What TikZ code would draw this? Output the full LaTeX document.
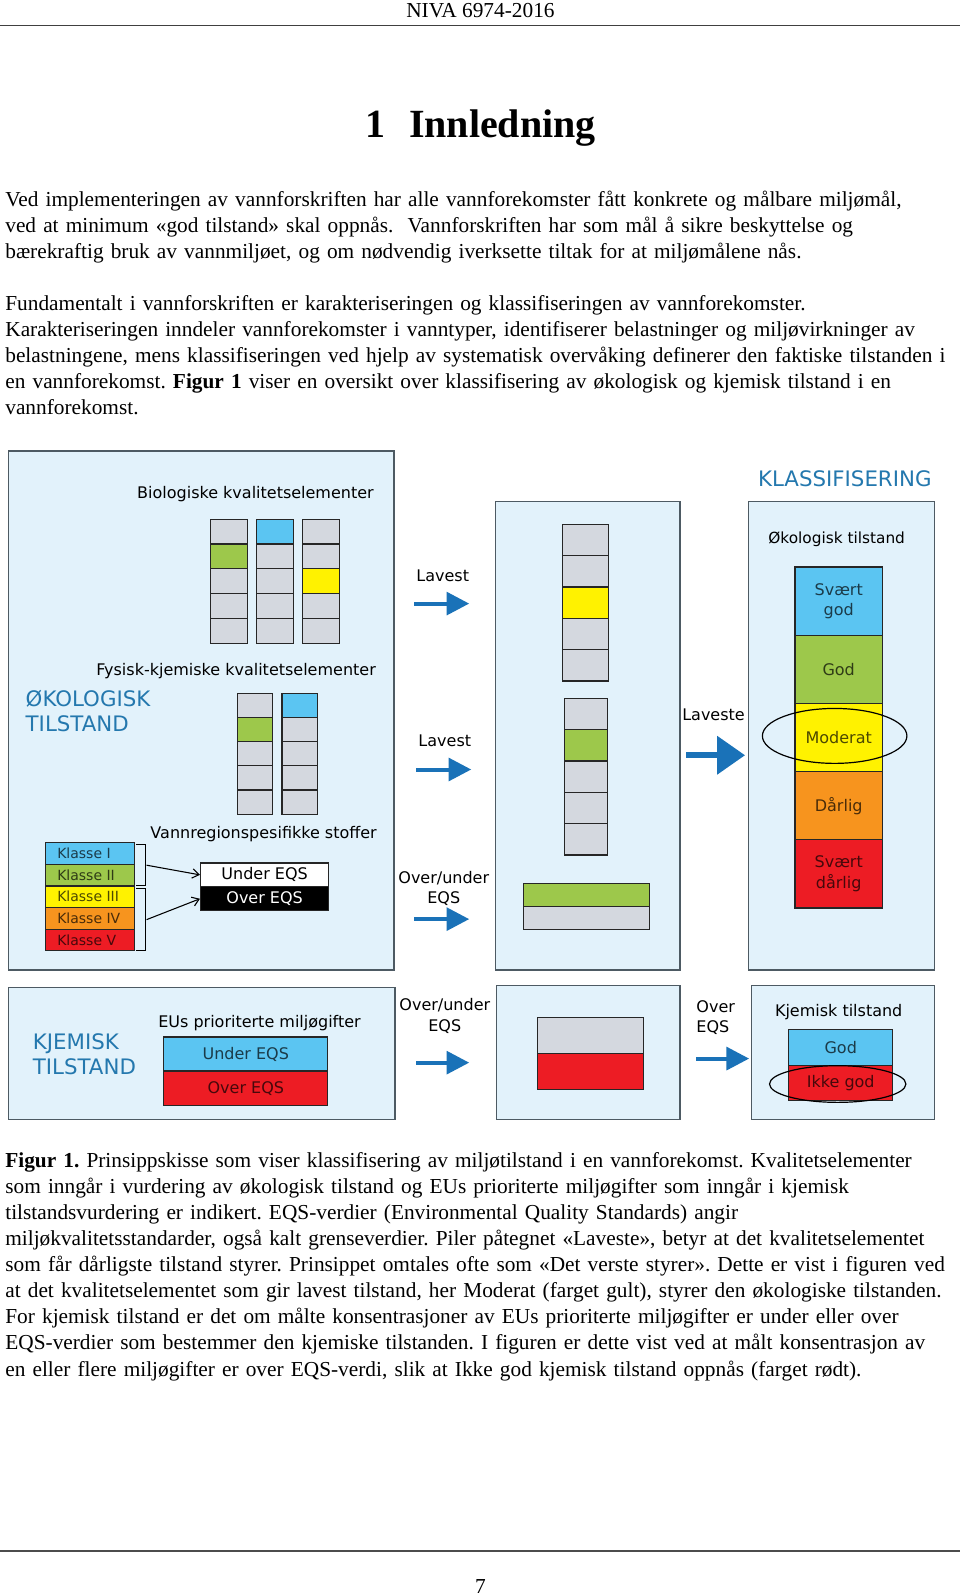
\documentclass[tikz,border=0pt]{standalone}
\usepackage{fontspec}
\setmainfont{Liberation Serif}
\newfontfamily\figfont{DejaVu Sans}
\usetikzlibrary{shapes.geometric,fit,arrows.meta}
\definecolor{panelfill}{HTML}{E2F2FB}
\definecolor{panelline}{HTML}{4D5A63}
\definecolor{cellgrey}{HTML}{D4D8DF}
\definecolor{kblue}{HTML}{5BC5F2}
\definecolor{kgreen}{HTML}{9DC84B}
\definecolor{kyellow}{HTML}{FFF200}
\definecolor{korange}{HTML}{F7941E}
\definecolor{kred}{HTML}{ED1C24}
\definecolor{headblue}{HTML}{2478AE}
\definecolor{arrowblue}{HTML}{1A72B8}
\frenchspacing

\begin{document}
\begin{tikzpicture}[x=0.7635pt,y=-0.7635pt,
	panel/.style={draw=panelline,fill=panelfill,line width=0.9pt,inner sep=0pt},
	cell/.style={draw=black!85,fill=cellgrey,line width=0.9pt,inner sep=0pt},
	txt/.style={font=\fontsize{16}{19.55}\selectfont,inner sep=0pt},
	para/.style={txt,text width=760pt,align=left,anchor=base west},
	fig/.style={font=\figfont\fontsize{12}{15.3}\selectfont,inner sep=0pt,align=center},
	head/.style={font=\figfont\fontsize{16}{19}\selectfont,text=headblue,inner sep=0pt,align=left},
	klasse/.style={font=\figfont\fontsize{10.5}{12}\selectfont,inner sep=0pt},
	bluearrow/.style={draw=arrowblue,line width=3pt,-{Triangle[length=17pt,width=17pt]}},
	bigarrow/.style={draw=arrowblue,line width=4.5pt,-{Triangle[length=21pt,width=28pt]}},
	ring/.style={draw=black,ellipse,line width=0.9pt,inner sep=0pt}]

\useasboundingbox[fill=white] (0,0) rectangle (943,1568);

%page head and title
\node[txt,anchor=base] (header) at (472,17.5) {NIVA 6974-2016};
\draw[black!75,line width=0.9pt] (0,25) -- (943,25);
\node[font=\bfseries\fontsize{30}{35}\selectfont,anchor=base,inner sep=0pt] (title) at (472,135.5) {1\hspace{0.6em}Innledning};

%the two paragraphs
\node[para] (par1) at (5,203) {Ved implementeringen av vannforskriften har alle vannforekomster fått konkrete og målbare miljømål,\\
ved at minimum «god tilstand» skal oppnås.\ \ Vannforskriften har som mål å sikre beskyttelse og\\
bærekraftig bruk av vannmiljøet, og om nødvendig iverksette tiltak for at miljømålene nås.};
\node[para] (par2) at (5,305) {Fundamentalt i vannforskriften er karakteriseringen og klassifiseringen av vannforekomster.\\
Karakteriseringen inndeler vannforekomster i vanntyper, identifiserer belastninger og miljøvirkninger av\\
belastningene, mens klassifiseringen ved hjelp av systematisk overvåking definerer den faktiske tilstanden i\\
en vannforekomst. \textbf{Figur 1} viser en oversikt over klassifisering av økologisk og kjemisk tilstand i en\\
vannforekomst.};

%put the panels
\node[panel,fit={(8,443) (387,953)}] (oekpanel) {};
\node[panel,fit={(487,493) (668,953)}] (midpanel) {};
\node[panel,fit={(735,493) (918,953)}] (klasspanel) {};
\node[panel,fit={(8,970) (388,1100)}] (kjempanel) {};
\node[panel,fit={(488,968) (668,1100)}] (kjemmid) {};
\node[panel,fit={(738,968) (918,1100)}] (kjemres) {};

%biological elements on the left
\node[fig] (biohead) at (251,485) {Biologiske kvalitetselementer};
\foreach \x/\cols [count=\k] in {225/{cellgrey,kgreen,cellgrey,cellgrey,cellgrey},270/{kblue,cellgrey,cellgrey,cellgrey,cellgrey},315.5/{cellgrey,cellgrey,kyellow,cellgrey,cellgrey}}{
	\foreach \c [count=\i] in \cols{
		\node[cell,fill=\c,minimum width=27.5pt,minimum height=18.6pt] (bio\k\i) at (\x,{510+(\i-0.5)*24.4}) {};
	}
}
%physico-chemical elements
\node[fig] (fyshead) at (232,659) {Fysisk-kjemiske kvalitetselementer};
\node[head,anchor=west] (oekhead) at (25,698.5) {ØKOLOGISK\\TILSTAND};
\foreach \x/\cols [count=\k] in {250.5/{cellgrey,kgreen,cellgrey,cellgrey,cellgrey},294.5/{kblue,cellgrey,cellgrey,cellgrey,cellgrey}}{
	\foreach \c [count=\i] in \cols{
		\node[cell,fill=\c,minimum width=26.7pt,minimum height=18.2pt] (fys\k\i) at (\x,{681+(\i-0.5)*23.8}) {};
	}
}
%river basin specific substances
\node[fig] (vannhead) at (259,819) {Vannregionspesifikke stoffer};
\foreach \c/\t [count=\i] in {kblue/I,kgreen/II,kyellow/III,korange/IV,kred/V}{
	\node[cell,fill=\c,minimum width=66.4pt,minimum height=16.2pt] (kl\i) at (88.5,{828+(\i-0.5)*21.2}) {};
	\node[klasse,text=\c!30!black,anchor=west] (kltxt\i) at (56,{828+(\i-0.5)*21.2}) {Klasse \t};
}
\draw[line width=0.9pt] (134,830) -| (143,870) -- (134,870);
\draw[line width=0.9pt] (134,873) -| (143,934) -- (134,934);
\coordinate (brk1) at (144,850);
\coordinate (brk2) at (144,903.5);
\node[cell,fill=white,fig,minimum width=96.2pt,minimum height=17.9pt] (undereqs) at (260,859.5) {Under EQS};
\node[cell,fill=black,fig,text=white,minimum width=96.2pt,minimum height=17.9pt] (overeqs) at (260,883) {Over EQS};
\draw[-{Straight Barb[length=5pt,width=7pt]},line width=0.8pt] (brk1) -- (undereqs.west);
\draw[-{Straight Barb[length=5pt,width=7pt]},line width=0.8pt] (brk2) -- (overeqs.west);

%the middle panel
\foreach \c [count=\i] in {cellgrey,cellgrey,kyellow,cellgrey,cellgrey}
	\node[cell,fill=\c,minimum width=34.4pt,minimum height=23.5pt] (mida\i) at (575.5,{515+(\i-0.5)*30.8}) {};
\foreach \c [count=\i] in {cellgrey,kgreen,cellgrey,cellgrey,cellgrey}
	\node[cell,fill=\c,minimum width=32.1pt,minimum height=23.5pt] (midb\i) at (576,{686+(\i-0.5)*30.8}) {};
\node[cell,fill=kgreen,minimum width=94.7pt,minimum height=17.2pt] (midbar1) at (576,879.25) {};
\node[cell,minimum width=94.7pt,minimum height=17.2pt] (midbar2) at (576,901.75) {};

%arrows into the middle panel
\node[fig] (lavtxt1) at (435,566) {Lavest};
\node[fig] (lavtxt2) at (437,728) {Lavest};
\node[fig] (eqstxt1) at (436,873) {Over/under\\EQS};
\coordinate (lav1s) at (407,593); \coordinate (lav1e) at (461,593);
\coordinate (lav2s) at (409,756); \coordinate (lav2e) at (463,756);
\coordinate (eqs1s) at (407,903); \coordinate (eqs1e) at (461,903);
\draw[bluearrow] (lav1s) -- (lav1e);
\draw[bluearrow] (lav2s) -- (lav2e);
\draw[bluearrow] (eqs1s) -- (eqs1e);

%classification on the right
\node[head] (klasshead) at (830,470) {KLASSIFISERING};
\node[fig,font=\figfont\fontsize{11.5}{14}\selectfont] (oektil) at (822,530) {Økologisk tilstand};
\foreach \c/\t [count=\i] in {kblue/{Svært\\god},kgreen/God,kyellow/Moderat,korange/Dårlig,kred/{Svært\\dårlig}}
	\node[cell,fill=\c,fig,text=\c!30!black,minimum width=65.7pt,minimum height=51.2pt] (st\i) at (824,{557+(\i-0.5)*67}) {\t};
\node[ring,minimum width=108.4pt,minimum height=41.2pt] (modring) at (820,723) {};
\node[fig] (lavestetxt) at (701,702) {Laveste};
\coordinate (lav3s) at (674,742); \coordinate (lav3e) at (732,742);
\draw[bigarrow] (lav3s) -- (lav3e);

%chemical status at the bottom
\node[head,anchor=west] (kjemhead) at (32,1035.5) {KJEMISK\\TILSTAND};
\node[fig] (eushead) at (255,1005) {EUs prioriterte miljøgifter};
\node[cell,fill=kblue,fig,text=kblue!30!black,minimum width=122.9pt,minimum height=25.6pt] (eusunder) at (241.5,1035.5) {Under EQS};
\node[cell,fill=kred,fig,text=kred!30!black,minimum width=122.9pt,minimum height=25.6pt] (eusover) at (241.5,1069) {Over EQS};
\node[fig] (eqstxt2) at (437,998) {Over/under\\EQS};
\coordinate (eqs2s) at (409,1044); \coordinate (eqs2e) at (461,1044);
\draw[bluearrow] (eqs2s) -- (eqs2e);
\node[cell,minimum width=79.4pt,minimum height=26.7pt] (kjemgrey) at (580,1017.5) {};
\node[cell,fill=kred,minimum width=79.4pt,minimum height=26.7pt] (kjemred) at (580,1052.5) {};
\node[fig,align=left,anchor=west] (overtxt) at (684,1000) {Over\\EQS};
\coordinate (overs) at (684,1040); \coordinate (overe) at (736,1040);
\draw[bluearrow] (overs) -- (overe);
\node[fig] (kjemtil) at (824,994) {Kjemisk tilstand};
\node[cell,fill=kblue,fig,text=kblue!30!black,minimum width=77.9pt,minimum height=26.7pt] (kjgod) at (826,1029) {God};
\node[cell,fill=kred,fig,text=kred!30!black,minimum width=77.9pt,minimum height=26.7pt] (kjikke) at (826,1064) {Ikke god};
\node[ring,minimum width=102.3pt,minimum height=27.5pt] (ikkering) at (823,1065) {};

%caption
\node[para] (caption) at (5,1147) {\textbf{Figur 1.} Prinsippskisse som viser klassifisering av miljøtilstand i en vannforekomst. Kvalitetselementer\\
som inngår i vurdering av økologisk tilstand og EUs prioriterte miljøgifter som inngår i kjemisk\\
tilstandsvurdering er indikert. EQS-verdier (Environmental Quality Standards) angir\\
miljøkvalitetsstandarder, også kalt grenseverdier. Piler påtegnet «Laveste», betyr at det kvalitetselementet\\
som får dårligste tilstand styrer. Prinsippet omtales ofte som «Det verste styrer». Dette er vist i figuren ved\\
at det kvalitetselementet som gir lavest tilstand, her Moderat (farget gult), styrer den økologiske tilstanden.\\
For kjemisk tilstand er det om målte konsentrasjoner av EUs prioriterte miljøgifter er under eller over\\
EQS-verdier som bestemmer den kjemiske tilstanden. I figuren er dette vist ved at målt konsentrasjon av\\
en eller flere miljøgifter er over EQS-verdi, slik at Ikke god kjemisk tilstand oppnås (farget rødt).};

%page foot
\draw[black!70,line width=1.8pt] (0,1524) -- (943,1524);
\node[txt,anchor=base] (pagenum) at (472,1566) {7};
\end{tikzpicture}
\end{document}
